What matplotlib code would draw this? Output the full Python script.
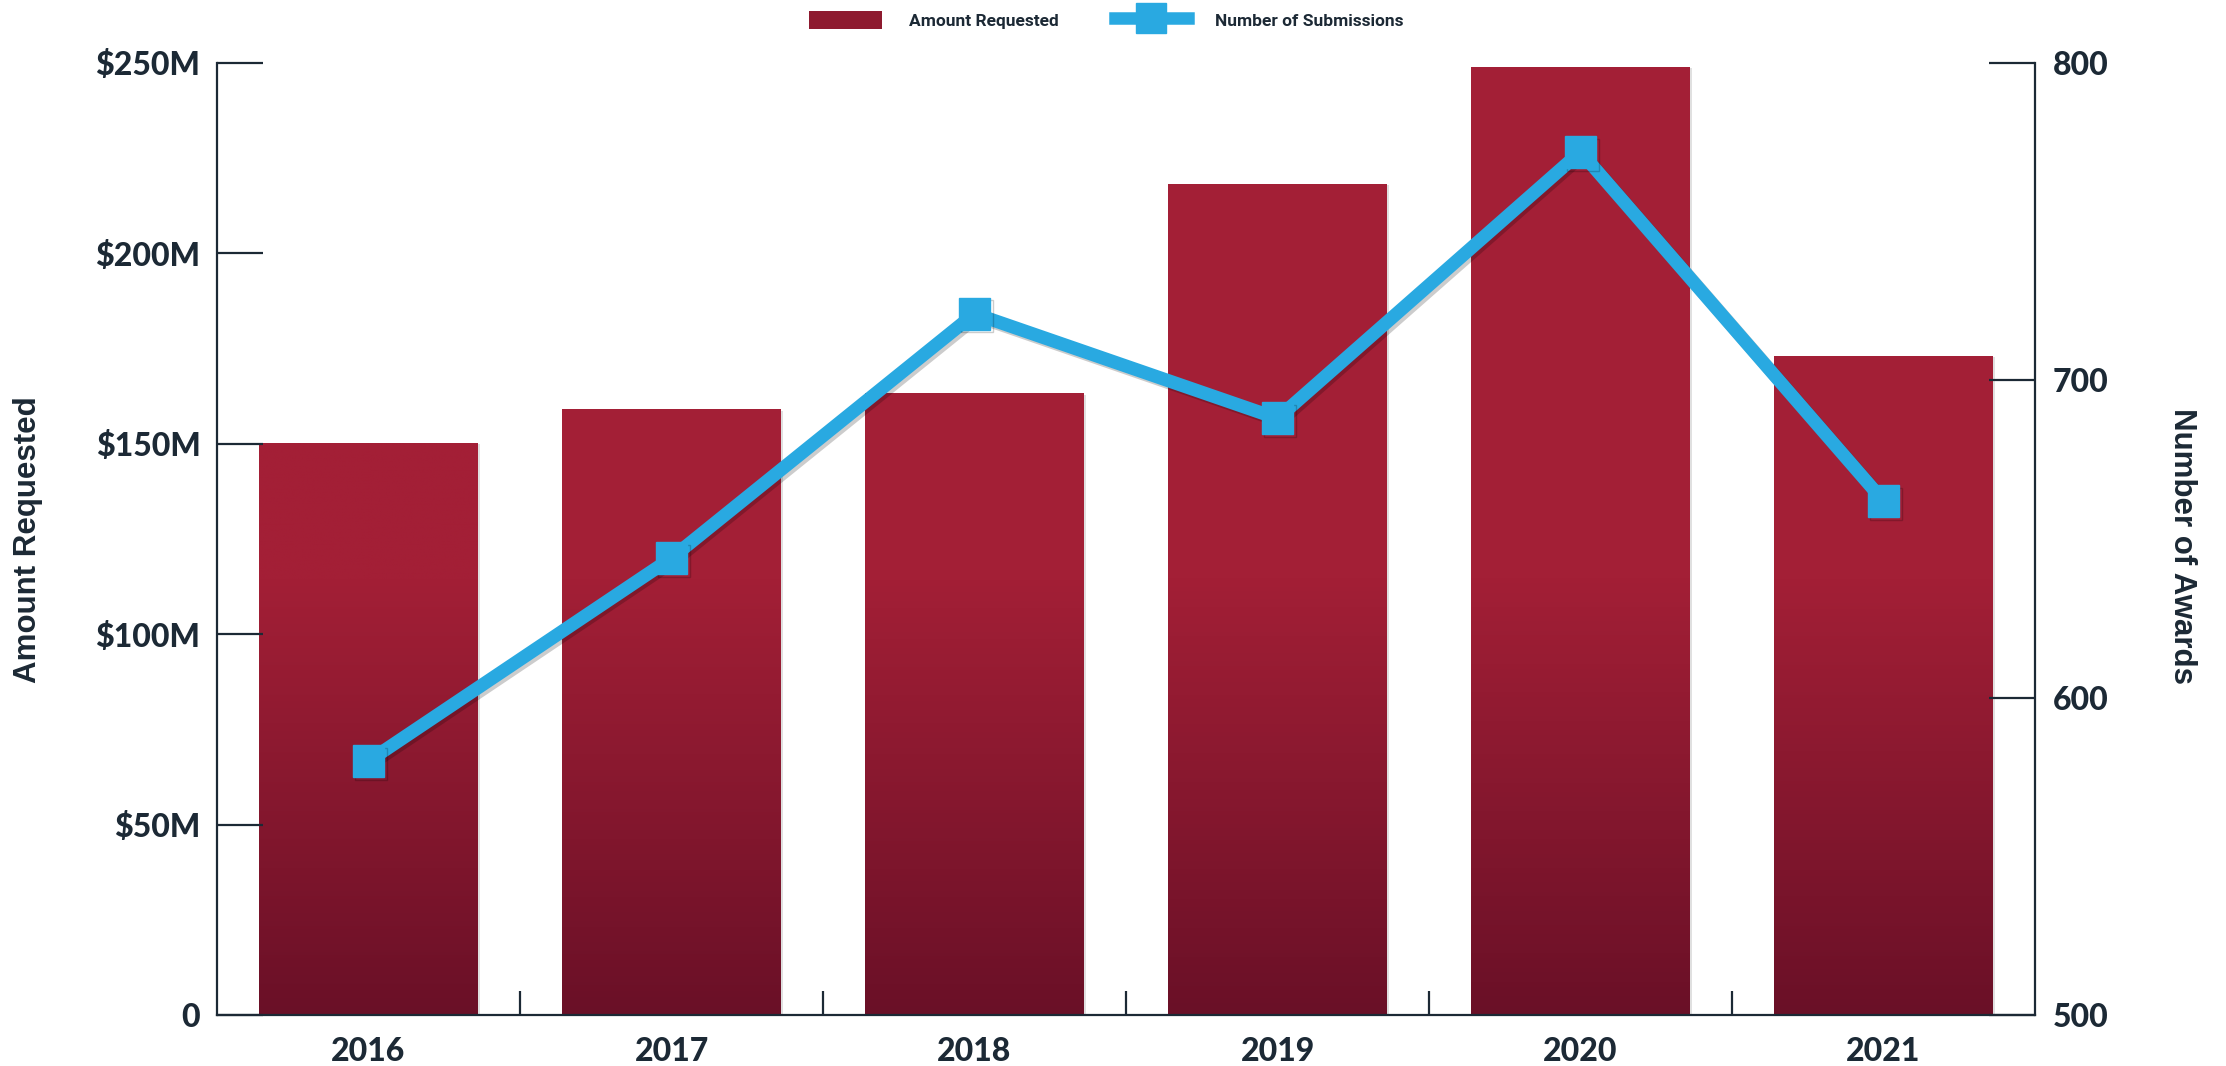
import numpy as np
import matplotlib
matplotlib.use("Agg")
import matplotlib.pyplot as plt
import matplotlib.patheffects as pe
from matplotlib.colors import LinearSegmentedColormap
from matplotlib.patches import Patch
from matplotlib.lines import Line2D

# data
years = ["2016", "2017", "2018", "2019", "2020", "2021"]
amount_requested = [150.2, 159.1, 163.3, 218.3, 249.0, 173.1]  # $M
submissions = [580, 644, 721, 688, 772, 662]

left_ticks = [0, 50, 100, 150, 200, 250]
left_labels = ["0", "$50M", "$100M", "$150M", "$200M", "$250M"]
right_ticks = [500, 600, 700, 800]
right_labels = ["500", "600", "700", "800"]

ink = "#1c2935"
bar_top = "#a31f36"
bar_bottom = "#6a1027"
blue = "#29a9e1"

fig = plt.figure(figsize=(22.26, 10.66), dpi=100)
ax = fig.add_axes([217 / 2226, 1 - 1015 / 1066, (2035 - 217) / 2226, (1015 - 63) / 1066])
ax2 = ax.twinx()

x = np.arange(len(years))
width = 0.72

# bars, filled with a vertical gradient (darker towards the base)
cmap = LinearSegmentedColormap.from_list("barfade", [bar_bottom, bar_top])
bars = ax.bar(x, amount_requested, width=width, color=bar_top, zorder=1,
              path_effects=[pe.SimplePatchShadow(offset=(2, -1), alpha=0.12, shadow_rgbFace="black"),
                            pe.Normal()])
for b, h in zip(bars, amount_requested):
    ys = np.linspace(0, h, 200)
    t = np.clip(ys / 115.0, 0, 1)
    img = ax.imshow(t[:, None], cmap=cmap, vmin=0, vmax=1, aspect="auto", origin="lower",
                    extent=[b.get_x(), b.get_x() + b.get_width(), 0, h], zorder=1.1)
    img.set_clip_path(b)

ax.set_xlim(-0.5, len(years) - 0.5)
ax.set_ylim(0, 250)
ax2.set_ylim(500, 800)

# line on the secondary axis
ax2.plot(x, submissions, color=blue, lw=9.5, marker="s", ms=23, mec=blue, mfc=blue,
         solid_joinstyle="miter", zorder=3,
         path_effects=[pe.SimpleLineShadow(offset=(2, -2), alpha=0.2, shadow_color="black"),
                       pe.Normal()])

# spines
for s in ["top", "right"]:
    ax.spines[s].set_visible(False)
for s in ["top", "left", "bottom"]:
    ax2.spines[s].set_visible(False)
for a, s in [(ax, "left"), (ax, "bottom"), (ax2, "right")]:
    a.spines[s].set_color(ink)
    a.spines[s].set_linewidth(1.6)

tick_font = dict(family="Lato", weight=900, size=23)

ax.set_yticks(left_ticks)
ax.set_yticklabels(left_labels, fontdict=tick_font, color=ink)
ax.tick_params(axis="y", direction="in", length=33, width=1.6, color=ink, pad=12)

ax2.set_yticks(right_ticks)
ax2.set_yticklabels(right_labels, fontdict=tick_font, color=ink)
ax2.tick_params(axis="y", direction="in", length=33, width=1.6, color=ink, pad=13)

ax.set_xticks(x)
ax.set_xticklabels(years, fontdict=tick_font, color=ink)
ax.set_xticks(x[:-1] + 0.5, minor=True)
ax.tick_params(axis="x", which="major", length=0, pad=16)
ax.tick_params(axis="x", which="minor", direction="in", length=17, width=1.6, color=ink)

# axis titles
fig.text(28 / 2226, 1 - 540 / 1066, "Amount Requested", rotation=90, ha="center", va="center",
         family="Liberation Sans", weight="bold", size=22.5, color=ink)
fig.text(2182 / 2226, 1 - 546 / 1066, "Number of Awards", rotation=270, ha="center", va="center",
         family="Liberation Sans", weight="bold", size=22.5, color=ink)

# legend
handles = [Patch(facecolor="#8e1a2f", edgecolor="none"),
           Line2D([0], [0], color=blue, lw=9, marker="s", ms=22, mec=blue)]
fig.legend(handles, ["Amount Requested", "Number of Submissions"], loc="center",
           bbox_to_anchor=(0.497, 1 - 20 / 1066), ncol=2, frameon=False,
           prop=dict(family="Roboto", weight="bold", size=12.5), labelcolor=ink,
           handlelength=4.2, handleheight=1.2, handletextpad=1.6, columnspacing=3.2)

fig.savefig("out.png", dpi=100)
